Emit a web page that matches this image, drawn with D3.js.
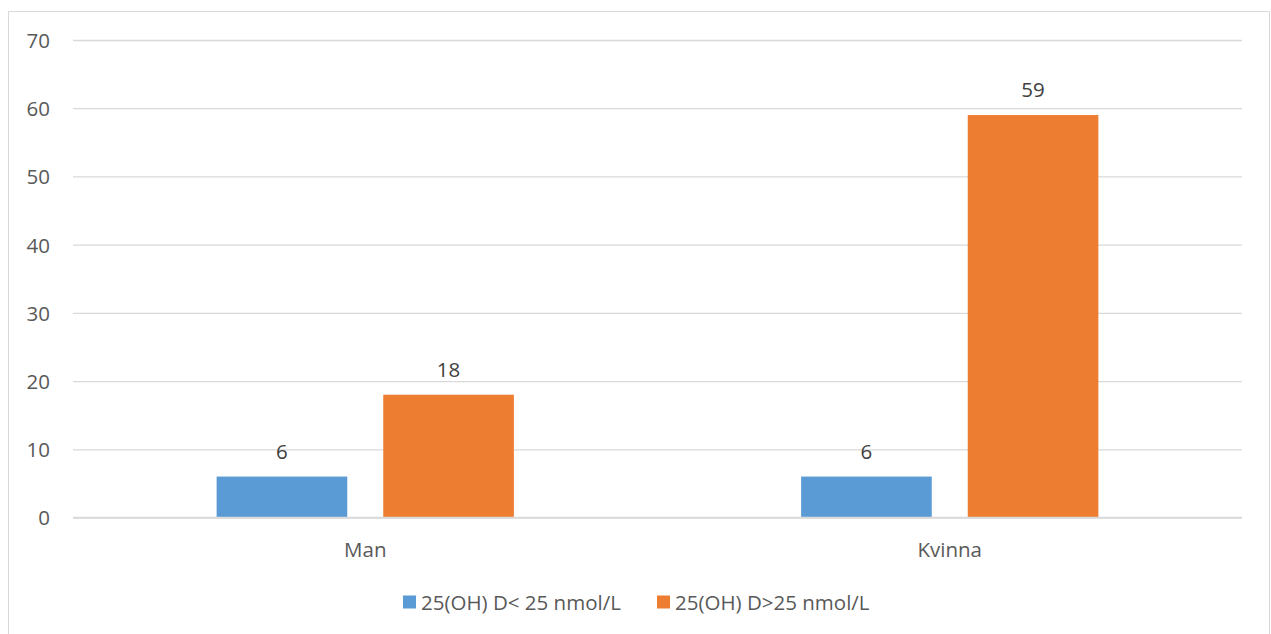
<!DOCTYPE html>
<html><head><meta charset="utf-8">
<script src="https://cdn.jsdelivr.net/npm/d3@7"></script>
<style>html,body{margin:0;padding:0;background:#fff;}svg{display:block;}</style>
</head><body>
<svg id="chart" width="1271" height="634"></svg>
<script>
const categories = ["Man", "Kvinna"];
const seriesNames = ["25(OH) D< 25 nmol/L", "25(OH) D>25 nmol/L"];
const seriesLow = [6, 6];
const seriesHigh = [18, 59];
const yTicks = [0, 10, 20, 30, 40, 50, 60, 70];
const colors = ["#5B9BD5", "#ED7D31"];

(function () {
const svg = d3.select("#chart");
const font = "'Open Sans', sans-serif";
const fs = "20.5px";
const textColor = "#595959";

// chart border
svg.append("rect").attr("x", 8.5).attr("y", 11.5).attr("width", 1261).attr("height", 640)
  .attr("fill", "#fff").attr("stroke", "#D9D9D9").attr("stroke-width", 1);

const pLeft = 73, pRight = 1242, pTop = 40, pBottom = 517.5;
const y = d3.scaleLinear().domain([0, 70]).range([pBottom, pTop]);
const x0 = d3.scaleBand().domain(categories).range([pLeft, pRight]).padding(0);
const x1 = d3.scaleBand().domain(seriesNames).range([0, x0.bandwidth()])
  .paddingInner(0.216).paddingOuter(0.862);

// gridlines
const yAxis = d3.axisLeft(y).tickValues(yTicks).tickSize(-(pRight - pLeft)).tickPadding(23);
const gy = svg.append("g").attr("transform", `translate(${pLeft},0)`).call(yAxis);
gy.select(".domain").remove();
gy.selectAll(".tick line").attr("stroke", "#D9D9D9").attr("stroke-width", 1.3);
gy.selectAll(".tick text").attr("fill", textColor).style("font-family", font)
  .style("font-size", fs).attr("dy", "0.36em");

const data = categories.map((c, i) => ({cat: c, vals: [seriesLow[i], seriesHigh[i]]}));

const groups = svg.append("g").selectAll("g").data(data).join("g")
  .attr("transform", d => `translate(${x0(d.cat)},0)`);
groups.selectAll("rect").data(d => d.vals.map((v, j) => ({name: seriesNames[j], v, j})))
  .join("rect")
  .attr("x", d => x1(d.name)).attr("width", x1.bandwidth())
  .attr("y", d => y(d.v)).attr("height", d => y(0) - y(d.v))
  .attr("fill", d => colors[d.j]);
groups.selectAll("text").data(d => d.vals.map((v, j) => ({name: seriesNames[j], v, j})))
  .join("text")
  .attr("x", d => x1(d.name) + x1.bandwidth() / 2)
  .attr("y", d => y(d.v) - 18)
  .attr("text-anchor", "middle").attr("fill", "#404040")
  .style("font-family", font).style("font-size", fs)
  .text(d => d.v);

// x axis line
svg.append("line").attr("x1", pLeft).attr("x2", pRight).attr("y1", y(0)).attr("y2", y(0))
  .attr("stroke", "#D9D9D9").attr("stroke-width", 1.3);
const xAxis = d3.axisBottom(x0).tickSize(0).tickPadding(0);
const gx = svg.append("g").attr("transform", `translate(0,${y(0)})`).call(xAxis);
gx.select(".domain").remove();
gx.selectAll(".tick text").attr("fill", textColor).style("font-family", font)
  .style("font-size", fs).attr("dy", 0).attr("y", 39.5);

// legend
const legendPos = [403, 657];
const lg = svg.append("g");
seriesNames.forEach((n, i) => {
  lg.append("rect").attr("x", legendPos[i]).attr("y", 595.5).attr("width", 13).attr("height", 13)
    .attr("fill", colors[i]);
  lg.append("text").attr("x", legendPos[i] + 18).attr("y", 610).attr("fill", textColor)
    .style("font-family", font).style("font-size", fs).text(n);
});
})();
</script>
</body></html>
